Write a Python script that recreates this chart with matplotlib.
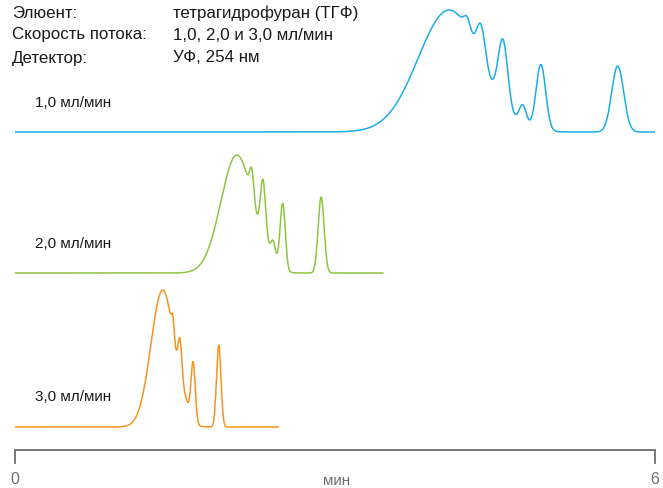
import numpy as np
import matplotlib.pyplot as plt

# peak tables: retention time (min), amplitude, width (sigma, min)
rt_1 = [4.07, 4.24, 4.37, 4.575, 4.76, 4.93, 5.65]
amp_1 = [122, 12, 36, 66, 20, 66, 66]
sig_1 = [0.29, 0.03, 0.04, 0.045, 0.035, 0.045, 0.056]

rt_2 = [2.08, 2.22, 2.325, 2.40, 2.42, 2.51, 2.87]
amp_2 = [118, 28, 58, 10, 14, 66, 76]
sig_2 = [0.15, 0.02, 0.024, 0.06, 0.02, 0.024, 0.028]

rt_3 = [1.385, 1.48, 1.547, 1.60, 1.67, 1.91]
amp_3 = [137, 17, 40, 10, 60, 82]
sig_3 = [0.11, 0.012, 0.018, 0.03, 0.02, 0.021]

run_end = [6.0, 3.45, 2.47]
labels = ['1,0 мл/мин', '2,0 мл/мин', '3,0 мл/мин']
colors = ['#1badea', '#8dc63f', '#f7941d']

W, H = 663, 489
FONT = ['Liberation Sans Narrow', 'Liberation Sans', 'DejaVu Sans']


def trace(t, rts, amps, sigs):
    y = np.zeros_like(t)
    for r, a, s in zip(rts, amps, sigs):
        y += a * np.exp(-0.5 * ((t - r) / s) ** 2)
    return y


fig = plt.figure(figsize=(W / 100, H / 100), dpi=100)
ax = fig.add_axes([15 / W, 0, 640 / W, 1])
ax.set_xlim(0, 6)
ax.set_ylim(0, H)
ax.axis('off')

baselines = [H - 133, H - 274, H - 428]
peaks = [(rt_1, amp_1, sig_1), (rt_2, amp_2, sig_2), (rt_3, amp_3, sig_3)]
for base, (r, a, s), end, col in zip(baselines, peaks, run_end, colors):
    t = np.arange(0, end + 0.001, 0.004)
    ax.plot(t, base + trace(t, r, a, s), color=col, lw=1.1, solid_joinstyle='round')

# time axis bracket
ax_y = H - 451
ax.plot([0, 0, 6, 6], [ax_y - 13, ax_y, ax_y, ax_y - 13], color='#6d6e70', lw=1.3,
        solid_joinstyle='miter', clip_on=False)


def px_text(x, y, s, **kw):
    fig.text(x / W, 1 - y / H, s, family=FONT, **kw)


head = dict(fontsize=12.2, color='#1a1a1a', va='center')
px_text(12, 13, 'Элюент:', **head)
px_text(12, 35, 'Скорость потока:', **head)
px_text(12, 58, 'Детектор:', **head)
px_text(173, 13, 'тетрагидрофуран (ТГФ)', **head)
px_text(173, 35, '1,0, 2,0 и 3,0 мл/мин', **head)
px_text(173, 58, 'УФ, 254 нм', **head)

for lab, y in zip(labels, [103, 244, 397]):
    px_text(35, y, lab, fontsize=11, color='#1a1a1a', va='center')

px_text(15, 480, '0', fontsize=11.5, color='#6d6e70', va='center', ha='center')
px_text(655, 480, '6', fontsize=11.5, color='#6d6e70', va='center', ha='center')
px_text(337, 481, 'мин', fontsize=11, color='#6d6e70', va='center', ha='center')

fig.savefig('out.png', dpi=100)
